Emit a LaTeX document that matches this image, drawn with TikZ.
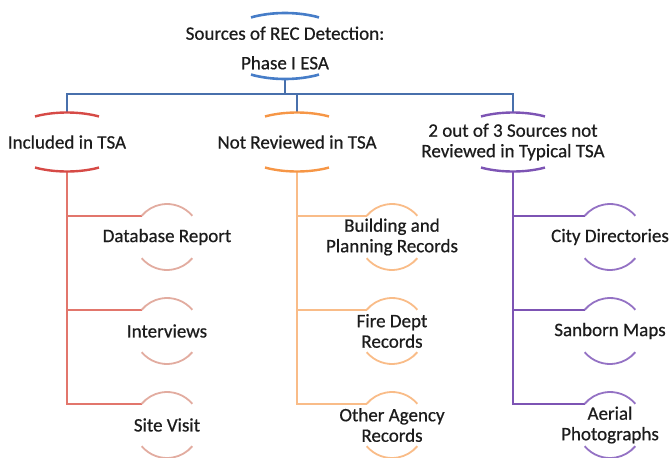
\documentclass[tikz,border=0pt]{standalone}
\usepackage{fontspec}
\setmainfont{Carlito}
\newfontfamily\lblfont{Carlito}[FakeBold=0.6]
\usetikzlibrary{shapes.geometric,calc}
\definecolor{TextGray}{RGB}{28,28,28}
\definecolor{RootBlue}{RGB}{70,125,200}
\definecolor{BusBlue}{RGB}{72,112,172}
\definecolor{IncRed}{RGB}{214,74,70}
\definecolor{IncLine}{RGB}{226,118,108}
\definecolor{IncSoft}{RGB}{226,172,160}
\definecolor{NrOrange}{RGB}{246,150,70}
\definecolor{NrSoft}{RGB}{249,188,136}
\definecolor{TypPurple}{RGB}{125,84,180}
\definecolor{TypSoft}{RGB}{148,114,196}

% top and bottom rim of a node: name, x radius, y radius, start angle, style
\newcommand{\rims}[5]{%
  \draw[#5] ([shift={({#2*cos(#4)},{#3*sin(#4)})}]#1.center)
    arc[start angle=#4,end angle={180-#4},x radius=#2pt,y radius=#3pt];
  \draw[#5] ([shift={({-#2*cos(#4)},{-#3*sin(#4)})}]#1.center)
    arc[start angle={180+#4},end angle={360-#4},x radius=#2pt,y radius=#3pt];}

\begin{document}
\begin{tikzpicture}[
      x=1pt,y=1pt,
      rNode/.style={ellipse,minimum width=136pt,minimum height=66pt,inner sep=0pt,outer sep=0pt},
      hNode/.style={ellipse,minimum width=128pt,minimum height=59pt,inner sep=0pt,outer sep=0pt},
      cNode/.style={circle,minimum size=66pt,inner sep=0pt,outer sep=0pt},
      lbl/.style={font=\lblfont\fontsize{19}{20.5}\selectfont,align=center,text=TextGray,inner sep=0pt},
      busLine/.style={draw=BusBlue,line width=1.7pt},
      rootArc/.style={draw=RootBlue,line width=2.6pt},
      incArc/.style={draw=IncRed,line width=2.4pt},
      incLine/.style={draw=IncLine,line width=1.6pt},
      incSoft/.style={draw=IncSoft,line width=1.8pt},
      nrArc/.style={draw=NrOrange,line width=2.4pt},
      nrLine/.style={draw=NrSoft,line width=1.8pt},
      nrSoft/.style={draw=NrSoft,line width=1.8pt},
      typArc/.style={draw=TypPurple,line width=2.4pt},
      typLine/.style={draw=TypPurple,line width=1.8pt},
      typSoft/.style={draw=TypSoft,line width=1.8pt}
    ]
    \useasboundingbox (0,0) rectangle (670,-458);

    % Root
    \node(src)[rNode] at (285,-46) {};
    \coordinate (bus) at (285,-94);

    % Row 1: the three source groups
    \node(inc)[hNode] at (67,-142) {};
    \node(nrv)[hNode] at (297,-142) {};
    \node(typ)[hNode] at (513,-142) {};

    % Row 2: sources per group
    \node(db)[cNode] at (167,-237) {};
    \node(intv)[cNode] at (167,-331) {};
    \node(site)[cNode] at (167,-425) {};
    \node(bld)[cNode] at (392,-237) {};
    \node(fire)[cNode] at (392,-331) {};
    \node(agency)[cNode] at (392,-425) {};
    \node(city)[cNode] at (610,-237) {};
    \node(sanborn)[cNode] at (610,-331) {};
    \node(aerial)[cNode] at (610,-425) {};

    % Bus from the root
    \draw[busLine] (src.south) -- (bus);
    \draw[busLine] (bus) -| (inc.north);
    \draw[busLine] (bus) -| (nrv.north);
    \draw[busLine] (bus) -| (typ.north);

    % Branches down each column
    \draw[incLine] (inc.south) |- (db.140);
    \draw[incLine] (inc.south) |- (intv.140);
    \draw[incLine] (inc.south) |- (site.140);
    \draw[nrLine] (nrv.south) |- (bld.140);
    \draw[nrLine] (nrv.south) |- (fire.140);
    \draw[nrLine] (nrv.south) |- (agency.140);
    \draw[typLine] (typ.south) |- (city.140);
    \draw[typLine] (typ.south) |- (sanborn.140);
    \draw[typLine] (typ.south) |- (aerial.140);

    % Rims
    \rims{src}{68}{33}{60}{rootArc}
    \rims{inc}{64}{29.5}{60}{incArc}
    \rims{nrv}{64}{29.5}{60}{nrArc}
    \rims{typ}{64}{29.5}{60}{typArc}
    \foreach \n in {db,intv,site} {\rims{\n}{33}{33}{40}{incSoft}}
    \foreach \n in {bld,fire,agency} {\rims{\n}{33}{33}{40}{nrSoft}}
    \foreach \n in {city,sanborn,aerial} {\rims{\n}{33}{33}{40}{typSoft}}

    % Labels
    \node(srcT)[lbl] at (285,-48) {Sources of REC Detection:\\[9pt]Phase I ESA};
    \node(incT)[lbl] at (inc) {Included in TSA};
    \node(nrvT)[lbl] at (nrv) {Not Reviewed in TSA};
    \node(typT)[lbl] at (typ) {2 out of 3 Sources not\\Reviewed in Typical TSA};
    \node(dbT)[lbl] at (db) {Database Report};
    \node(intvT)[lbl] at (intv) {Interviews};
    \node(siteT)[lbl] at (site) {Site Visit};
    \node(bldT)[lbl] at (bld) {Building and\\Planning Records};
    \node(fireT)[lbl] at (fire) {Fire Dept\\Records};
    \node(agencyT)[lbl] at (agency) {Other Agency\\Records};
    \node(cityT)[lbl] at (city) {City Directories};
    \node(sanbornT)[lbl] at (sanborn) {Sanborn Maps};
    \node(aerialT)[lbl] at (aerial) {Aerial\\Photographs};
  \end{tikzpicture}
\end{document}
